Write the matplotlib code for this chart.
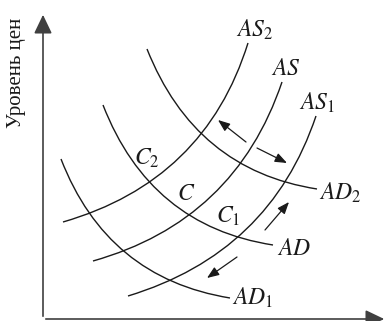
import matplotlib.pyplot as plt
from matplotlib.path import Path
from matplotlib.patches import PathPatch

plt.rcParams['mathtext.fontset'] = 'stix'

# curves: start, control, end (quadratic Bezier), origin at the axes corner
as2 = [(20, 97), (162, 138), (205, 276)]
as0 = [(50, 58), (192, 98), (239, 237)]
as1 = [(85, 23), (227, 66), (273, 203)]
ad2 = [(104, 270), (152, 149), (274, 130)]
ad0 = [(60, 214), (107, 93), (230, 74)]
ad1 = [(18, 160), (64, 41), (187, 21)]
curves = [as2, as0, as1, ad2, ad0, ad1]

curve_labels = [r'$AS_2$', r'$AS$', r'$AS_1$', r'$AD_2$', r'$AD$', r'$AD_1$']
point_labels = [r'$C_2$', r'$C$', r'$C_1$']

# shift arrows: (tail, head)
shifts = [((203, 177), (175, 199)),
          ((214, 171), (244, 156)),
          ((222, 89), (246, 117)),
          ((194, 62), (164, 41))]

curve_label_pos = [(193, 282), (228, 244), (256, 209), (276, 119), (234, 64), (189, 14)]
point_label_pos = [(91, 154), (134, 119), (173, 96)]

fig = plt.figure(figsize=(3.85, 3.21), dpi=100)
ax = fig.add_axes([0, 0, 1, 1])
ax.set_xlim(-43, 342)
ax.set_ylim(-2, 319)
ax.axis('off')

ink = '#1a1a1a'
for c in curves:
    path = Path(c, [Path.MOVETO, Path.CURVE3, Path.CURVE3])
    ax.add_patch(PathPatch(path, fill=False, ec=ink, lw=1.0))

# axes with arrows
ax.annotate('', xy=(0, 307), xytext=(0, 0),
            arrowprops=dict(arrowstyle='-|>,head_length=1.15,head_width=0.55',
                            mutation_scale=10, color='#404040', lw=1.2))
ax.annotate('', xy=(344, 0), xytext=(0, 0), annotation_clip=False,
            arrowprops=dict(arrowstyle='-|>,head_length=1.15,head_width=0.55',
                            mutation_scale=10, color='#404040', lw=1.2))

for tail, head in shifts:
    ax.annotate('', xy=head, xytext=tail,
                arrowprops=dict(arrowstyle='-|>,head_length=0.9,head_width=0.35',
                                mutation_scale=8, color=ink, lw=0.9,
                                shrinkA=0, shrinkB=0))

for txt, (x, y) in zip(curve_labels, curve_label_pos):
    ax.text(x, y, txt, fontsize=17, color=ink, ha='left', va='baseline')
for txt, (x, y) in zip(point_labels, point_label_pos):
    ax.text(x, y, txt, fontsize=17, color=ink, ha='left', va='baseline')

ax.text(-26, 246, 'Уровень цен', rotation=90, fontsize=15, color=ink,
        family='Liberation Serif', ha='center', va='center')

fig.savefig('out.png', dpi=100)
